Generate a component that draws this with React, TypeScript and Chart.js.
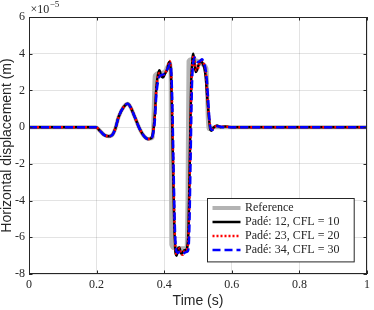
import React, { useEffect, useRef } from "react";
import { Chart, registerables } from "chart.js";

Chart.register(...registerables);

// ---- Data (displacement in units of 1e-5 m) ----
const seriesLabels = [
  "Reference",
  "Padé: 12, CFL = 10",
  "Padé: 23, CFL = 20",
  "Padé: 34, CFL = 30",
];
const seriesColors = ["#b3b3b3", "#000000", "#ff0000", "#0000ff"];

const refTime = [0, 0.198, 0.21, 0.222, 0.235, 0.245, 0.255, 0.265, 0.28, 0.292, 0.3, 0.313, 0.325, 0.335, 0.345, 0.352, 0.36, 0.366, 0.369, 0.372, 0.385, 0.4, 0.41, 0.416, 0.419, 0.421, 0.43, 0.45, 0.466, 0.469, 0.472, 0.48, 0.5, 0.515, 0.525, 0.529, 0.532, 0.54, 0.55, 1.0];
const refDisp = [0, 0, -0.2, -0.42, -0.5, -0.45, -0.1, 0.55, 1.1, 1.27, 1.1, 0.55, 0.0, -0.35, -0.58, -0.65, -0.62, -0.55, 1.0, 2.8, 2.95, 3.0, 3.3, 3.5, 3.2, -6.4, -6.6, -6.6, -6.6, -4.0, 3.6, 3.7, 3.6, 3.4, 3.2, 0.5, -0.1, -0.05, 0, 0];

const p12Time = [0, 0.198, 0.21, 0.222, 0.235, 0.245, 0.255, 0.265, 0.28, 0.292, 0.3, 0.313, 0.325, 0.335, 0.345, 0.352, 0.36, 0.366, 0.372, 0.377, 0.382, 0.386, 0.39, 0.396, 0.402, 0.408, 0.415, 0.419, 0.422, 0.426, 0.43, 0.434, 0.437, 0.441, 0.445, 0.449, 0.453, 0.458, 0.463, 0.468, 0.472, 0.476, 0.48, 0.484, 0.486, 0.489, 0.493, 0.497, 0.502, 0.508, 0.513, 0.519, 0.523, 0.527, 0.532, 0.536, 0.539, 0.545, 0.556, 0.566, 0.58, 0.6, 1.0];
const p12Disp = [0, 0, -0.2, -0.42, -0.5, -0.45, -0.1, 0.55, 1.1, 1.27, 1.1, 0.55, 0.0, -0.35, -0.58, -0.65, -0.62, -0.4, 0.6, 2.2, 2.9, 3.1, 2.85, 2.7, 2.9, 3.1, 3.55, 3.2, 1.7, -2.0, -5.5, -6.9, -7.0, -6.6, -6.55, -6.85, -6.9, -6.72, -6.7, -6.55, -5.5, -1.5, 2.5, 3.8, 4.0, 3.6, 3.0, 3.1, 3.4, 3.64, 3.5, 3.2, 2.7, 1.7, 0.6, -0.1, -0.2, -0.05, 0.09, 0.0, 0.03, 0, 0];

const p23Time = [0, 0.198, 0.21, 0.222, 0.235, 0.245, 0.255, 0.265, 0.28, 0.292, 0.3, 0.313, 0.325, 0.335, 0.345, 0.352, 0.36, 0.366, 0.372, 0.377, 0.382, 0.387, 0.392, 0.398, 0.404, 0.41, 0.416, 0.42, 0.423, 0.427, 0.431, 0.435, 0.438, 0.442, 0.446, 0.45, 0.455, 0.46, 0.465, 0.469, 0.473, 0.477, 0.481, 0.485, 0.488, 0.491, 0.495, 0.5, 0.505, 0.51, 0.515, 0.52, 0.524, 0.528, 0.533, 0.537, 0.541, 0.548, 0.558, 0.57, 0.585, 0.6, 1.0];
const p23Disp = [0, 0, -0.2, -0.42, -0.5, -0.45, -0.1, 0.55, 1.1, 1.27, 1.1, 0.55, 0.0, -0.35, -0.58, -0.65, -0.62, -0.42, 0.5, 2.1, 2.8, 2.95, 2.75, 2.85, 3.0, 3.2, 3.6, 3.1, 1.5, -2.2, -5.6, -6.85, -6.95, -6.7, -6.6, -6.9, -6.95, -6.75, -6.65, -6.6, -5.2, -1.2, 2.6, 3.7, 3.9, 3.5, 3.1, 3.2, 3.5, 3.6, 3.55, 3.3, 2.8, 1.6, 0.5, -0.05, -0.15, 0.0, 0.07, 0.02, 0.02, 0, 0];

const p34Time = [0, 0.198, 0.21, 0.222, 0.235, 0.245, 0.255, 0.265, 0.28, 0.292, 0.3, 0.313, 0.325, 0.335, 0.345, 0.352, 0.36, 0.366, 0.372, 0.377, 0.383, 0.388, 0.394, 0.4, 0.406, 0.412, 0.417, 0.421, 0.424, 0.428, 0.432, 0.436, 0.44, 0.445, 0.45, 0.455, 0.46, 0.465, 0.47, 0.474, 0.478, 0.482, 0.486, 0.49, 0.495, 0.5, 0.506, 0.512, 0.517, 0.522, 0.526, 0.53, 0.534, 0.538, 0.542, 0.55, 0.56, 0.575, 0.6, 1.0];
const p34Disp = [0, 0, -0.2, -0.42, -0.5, -0.45, -0.1, 0.55, 1.1, 1.27, 1.1, 0.55, 0.0, -0.35, -0.58, -0.65, -0.62, -0.45, 0.3, 1.8, 2.6, 2.8, 2.85, 2.9, 3.05, 3.25, 3.45, 3.0, 1.3, -2.5, -5.7, -6.75, -6.85, -6.8, -6.85, -6.9, -6.85, -6.8, -6.75, -5.8, -1.8, 2.2, 3.5, 3.8, 3.6, 3.55, 3.6, 3.7, 3.5, 3.2, 2.6, 1.5, 0.4, -0.1, -0.15, 0.0, 0.05, 0.0, 0, 0];

const xTicks = [0, 0.2, 0.4, 0.6, 0.8, 1];
const yTicks = [-8, -6, -4, -2, 0, 2, 4, 6];
const xLabel = "Time (s)";
const yLabel = "Horizontal displacement (m)";
const exponentBase = "×10";
const exponentPower = "−5";

const zip = (t: number[], v: number[]) => t.map((x, i) => ({ x, y: v[i] }));

const AXIS_COLOR = "#262626";
const SERIF = '"Liberation Serif", "Times New Roman", serif';
const SANS = '"Liberation Sans", Arial, sans-serif';

const framePlugin = {
  id: "frameAndLegend",
  afterDraw(chart: any) {
    const { ctx, chartArea: a, scales } = chart;
    ctx.save();
    // frame
    ctx.strokeStyle = AXIS_COLOR;
    ctx.lineWidth = 1;
    ctx.strokeRect(Math.round(a.left) + 0.5, Math.round(a.top) + 0.5, Math.round(a.right - a.left) - 1, Math.round(a.bottom - a.top) - 1);
    // inward ticks
    const tl = 3.5;
    ctx.beginPath();
    xTicks.forEach((v) => {
      const px = Math.round(scales.x.getPixelForValue(v)) + 0.5;
      ctx.moveTo(px, a.bottom);
      ctx.lineTo(px, a.bottom - tl);
      ctx.moveTo(px, a.top);
      ctx.lineTo(px, a.top + tl);
    });
    yTicks.forEach((v) => {
      const py = Math.round(scales.y.getPixelForValue(v)) + 0.5;
      ctx.moveTo(a.left, py);
      ctx.lineTo(a.left + tl, py);
      ctx.moveTo(a.right, py);
      ctx.lineTo(a.right - tl, py);
    });
    ctx.stroke();

    // exponent label
    ctx.fillStyle = AXIS_COLOR;
    ctx.textBaseline = "alphabetic";
    ctx.textAlign = "left";
    ctx.font = `12px ${SERIF}`;
    ctx.fillText(exponentBase, a.left + 1.5, a.top - 4);
    const w = ctx.measureText(exponentBase).width;
    ctx.font = `9px ${SERIF}`;
    ctx.fillText(exponentPower, a.left + 1.5 + w + 0.5, a.top - 10);

    // legend
    const bw = 146.7;
    const bh = 63.4;
    const bx = Math.round(a.right - 13 - bw) + 0.5;
    const by = Math.round(a.bottom - 12.3 - bh) + 0.5;
    ctx.fillStyle = "#ffffff";
    ctx.fillRect(bx, by, bw, bh);
    ctx.strokeStyle = AXIS_COLOR;
    ctx.lineWidth = 1;
    ctx.strokeRect(bx, by, bw, bh);
    chart.data.datasets.forEach((ds: any, i: number) => {
      const yy = by + 9.5 + i * 14;
      ctx.save();
      ctx.strokeStyle = ds.borderColor;
      ctx.lineWidth = ds.borderWidth;
      ctx.setLineDash(ds.borderDash || []);
      ctx.beginPath();
      ctx.moveTo(bx + 5, yy);
      ctx.lineTo(bx + 33, yy);
      ctx.stroke();
      ctx.restore();
      ctx.fillStyle = AXIS_COLOR;
      ctx.font = `12px ${SERIF}`;
      ctx.textBaseline = "middle";
      ctx.fillText(ds.label, bx + 37.5, yy);
    });
    ctx.restore();
  },
};

export default function App() {
  const ref = useRef<HTMLCanvasElement | null>(null);
  useEffect(() => {
    document.body.style.margin = "0";
    const canvas = ref.current;
    if (!canvas) return;
    const dashes = [[], [], [2, 2], [8, 4]];
    const widths = [4, 2.5, 2.5, 2.5];
    const orders = [4, 3, 2, 1];
    const allData = [
      zip(refTime, refDisp),
      zip(p12Time, p12Disp),
      zip(p23Time, p23Disp),
      zip(p34Time, p34Disp),
    ];
    const chart = new Chart(canvas, {
      type: "line",
      data: {
        datasets: allData.map((d, i) => ({
          label: seriesLabels[i],
          data: d,
          order: orders[i],
          borderColor: seriesColors[i],
          backgroundColor: seriesColors[i],
          borderWidth: widths[i],
          borderDash: dashes[i],
          pointRadius: 0,
          fill: false,
          cubicInterpolationMode: "monotone" as const,
          borderCapStyle: "butt" as const,
          borderJoinStyle: "round" as const,
        })),
      },
      options: {
        animation: false,
        responsive: false,
        devicePixelRatio: 1,
        parsing: false,
        layout: { padding: { top: 17, right: 2, left: 0, bottom: 0 } },
        plugins: { legend: { display: false }, tooltip: { enabled: false } },
        scales: {
          x: {
            type: "linear",
            min: 0,
            max: 1,
            afterBuildTicks: (s: any) => {
              s.ticks = xTicks.map((v) => ({ value: v }));
            },
            afterFit: (s: any) => {
              s.height = 36;
            },
            grid: { color: "rgba(38,38,38,0.13)", drawTicks: false, lineWidth: 1 },
            border: { display: false },
            ticks: {
              padding: 4,
              color: AXIS_COLOR,
              font: { family: SERIF, size: 12 },
              maxRotation: 0,
              callback: (v: any) => String(Math.round(Number(v) * 10) / 10),
            },
            title: {
              display: true,
              text: xLabel,
              color: AXIS_COLOR,
              font: { family: SANS, size: 14 },
              padding: { top: 0, bottom: 0 },
            },
          },
          y: {
            type: "linear",
            min: -8,
            max: 6,
            afterBuildTicks: (s: any) => {
              s.ticks = yTicks.map((v) => ({ value: v }));
            },
            afterFit: (s: any) => {
              s.width = 29;
            },
            grid: { color: "rgba(38,38,38,0.13)", drawTicks: false, lineWidth: 1 },
            border: { display: false },
            ticks: {
              padding: 4,
              color: AXIS_COLOR,
              font: { family: SERIF, size: 12 },
              callback: (v: any) => String(v),
            },
            title: {
              display: true,
              text: yLabel,
              color: AXIS_COLOR,
              font: { family: SANS, size: 14 },
              padding: { top: -1, bottom: 0 },
            },
          },
        },
      },
      plugins: [framePlugin],
    });
    return () => chart.destroy();
  }, []);
  return (
    <div style={{ position: "fixed", left: 0, top: 0, width: 374, height: 310, background: "#fff" }}>
      <canvas ref={ref} width={374} height={310} />
    </div>
  );
}
